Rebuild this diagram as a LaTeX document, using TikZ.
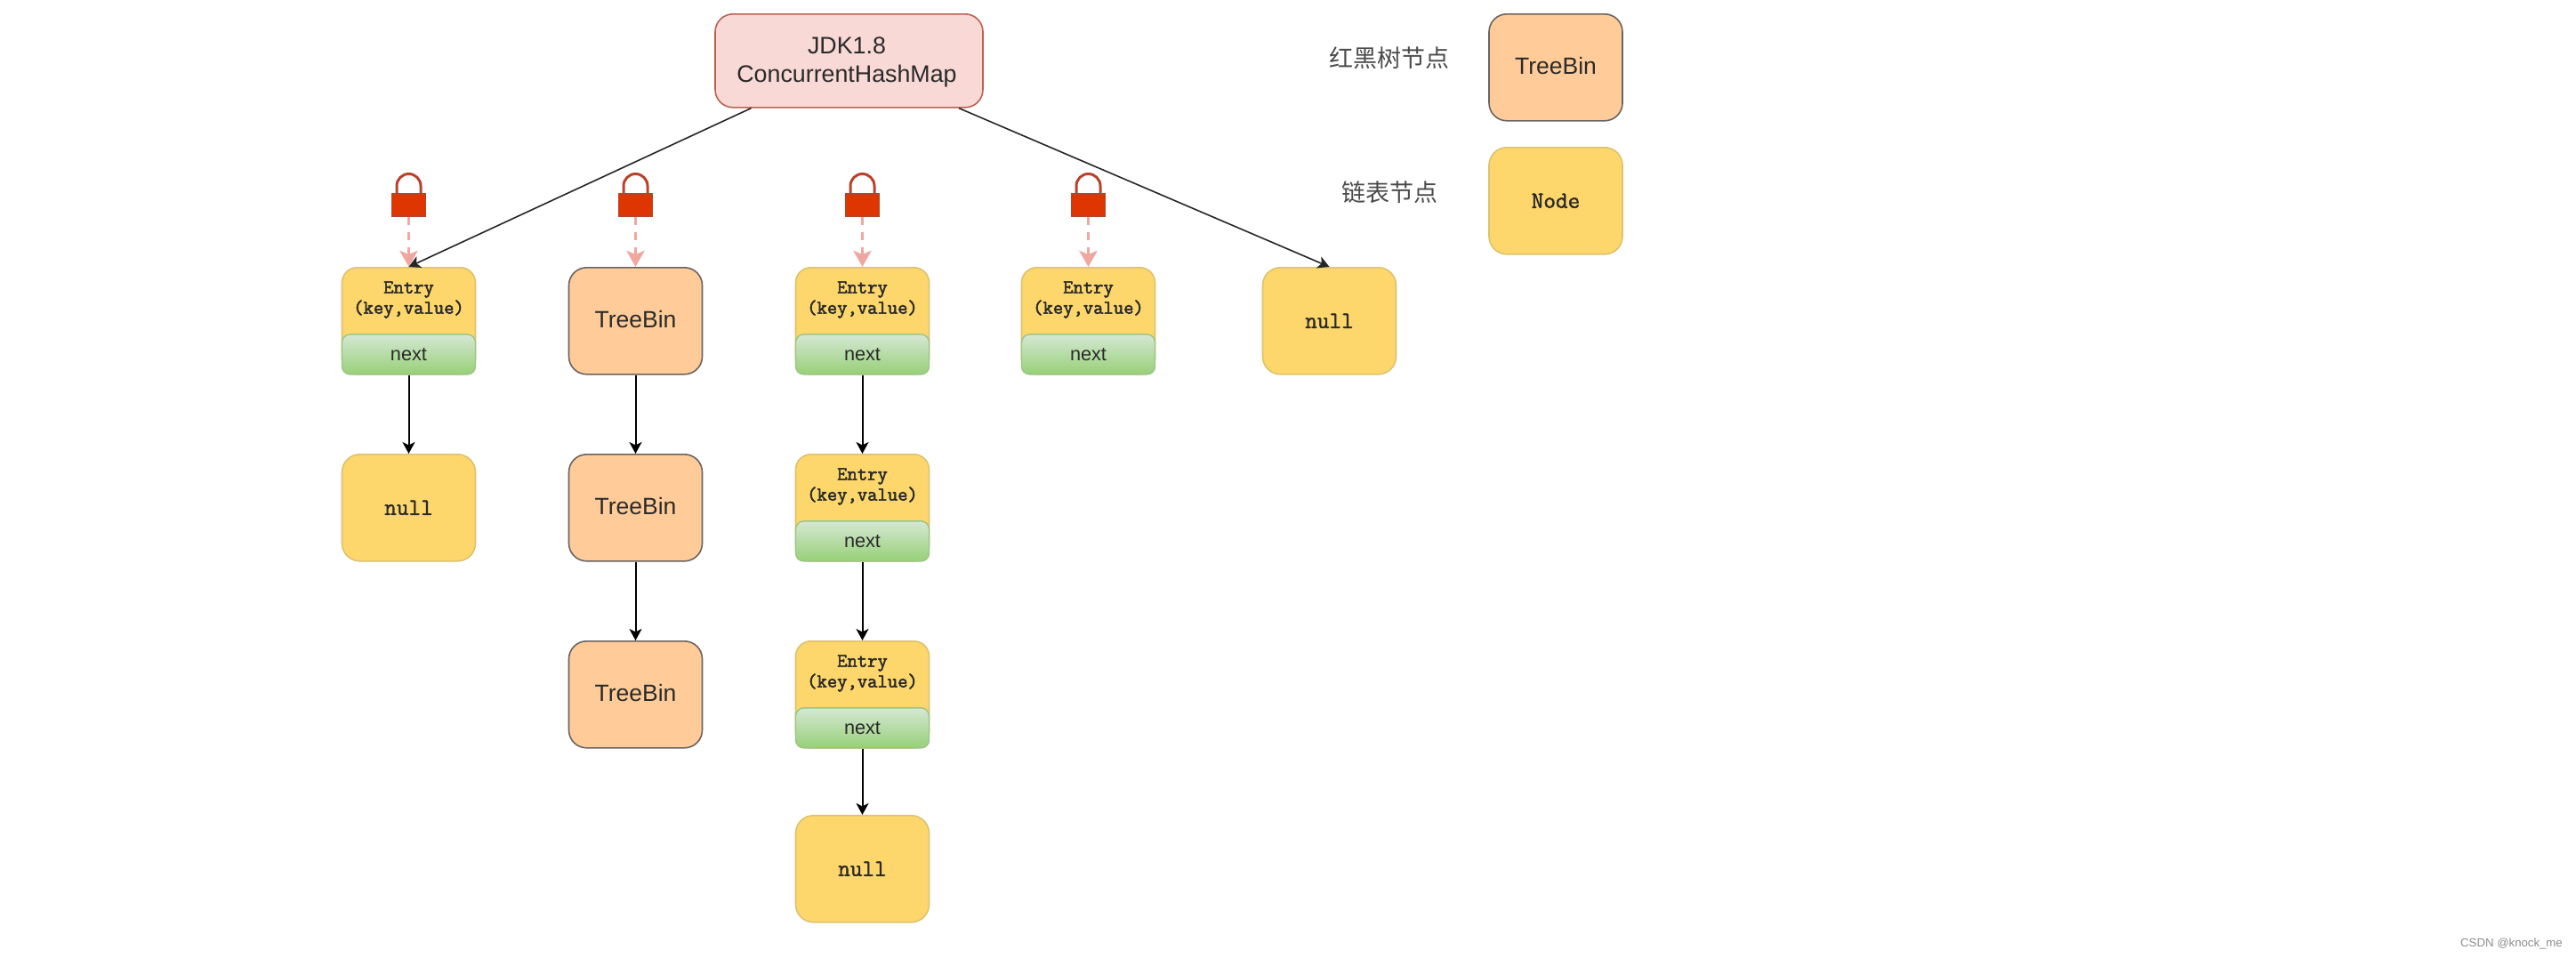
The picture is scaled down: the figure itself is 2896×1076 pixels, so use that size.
\documentclass[tikz,border=0pt]{standalone}
\usepackage{fontspec}
\setmainfont{Liberation Sans}
\newfontfamily\cjkfont{Noto Sans CJK SC}
\newfontfamily\slabnull[FakeBold=1.6]{Latin Modern Mono}
\newfontfamily\slabentry[FakeBold=2.4]{Latin Modern Mono}
\usetikzlibrary{arrows.meta,positioning}
\definecolor{yfill}{HTML}{FDD76C}
\definecolor{ystroke}{HTML}{DDC26E}
\definecolor{ofill}{HTML}{FFCC99}
\definecolor{ostroke}{HTML}{6A6461}
\definecolor{rfill}{HTML}{F8D9D5}
\definecolor{rstroke}{HTML}{BC6150}
\definecolor{lockfill}{HTML}{DF3500}
\definecolor{lockstroke}{HTML}{B8432A}
\definecolor{pinkline}{HTML}{EFA79F}
\definecolor{gtop}{HTML}{D5E8D4}
\definecolor{gbot}{HTML}{97D077}
\definecolor{gstroke}{HTML}{9BC585}
\definecolor{txt}{HTML}{2A2A2A}
\tikzset{
  x=1pt,y=-1pt,
  box/.style={minimum width=150pt,minimum height=120pt,inner sep=0pt,rounded corners=20pt,line width=1.6pt,text=txt,align=center,anchor=north},
  treebin/.style={box,draw=ostroke,fill=ofill,text depth=4pt,font=\fontsize{26.5}{32}\selectfont},
  nullbox/.style={box,draw=ystroke,fill=yfill,font=\fontsize{26.5}{30}\selectfont\slabnull},
  entrybox/.style={box,draw=ystroke,fill=yfill,rounded corners=17pt},
  entrytext/.style={inner sep=0pt,align=center,text=txt,font=\fontsize{22}{23}\selectfont\slabentry},
  nextbox/.style={minimum width=150pt,minimum height=45pt,inner sep=0pt,rounded corners=9pt,draw=gstroke,line width=1.4pt,top color=gtop,bottom color=gbot,text=txt,font=\fontsize{21.7}{26}\selectfont,anchor=south},
  rootbox/.style={inner sep=0pt,minimum width=301pt,minimum height=105pt,rounded corners=20pt,line width=1.6pt,draw=rstroke,fill=rfill,anchor=north},
  roottext/.style={inner sep=0pt,align=center,text=txt,font=\fontsize{26.8}{32}\selectfont},
  lockbody/.style={minimum width=38pt,minimum height=25pt,inner sep=0pt,draw=lockstroke,fill=lockfill,line width=1.5pt,anchor=north},
  shackle/.style={draw=lockstroke,line width=3pt},
  link/.style={draw=black,line width=2pt,-{Stealth[length=13pt,width=14pt,inset=3.5pt]}},
  edge1/.style={draw=black!85,line width=1.6pt,-{Stealth[length=13pt,width=14pt,inset=3.5pt]}},
  lockline/.style={draw=pinkline,line width=3.5pt,dash pattern=on 9pt off 8pt,-{Stealth[length=18pt,width=20pt,inset=4pt]}},
  cjklabel/.style={inner sep=0pt,text=txt!85,font=\fontsize{27}{32}\selectfont\cjkfont},
  mark1/.style={inner sep=0pt,text=black!45,font=\fontsize{13.2}{16}\selectfont,anchor=east}
}
\begin{document}
\begin{tikzpicture}
\useasboundingbox (0,0) rectangle (2896,1076);
\node[rootbox] (root) at (954.5,15) {};
\node[roottext] (roott) at (952,70) {JDK1.8\\ConcurrentHashMap};
% legend
\node[cjklabel] (lb1) at (1562,65) {红黑树节点};
\node[cjklabel] (lb2) at (1562,216) {链表节点};
\node[treebin] (legT) at (1749,15) {TreeBin};
\node[nullbox] (legN) at (1749,165) {Node};
% column 1
\node[entrybox] (e1) at (459.5,300) {};
\node[nextbox] (n1) at (e1.south) {next};
\node[entrytext] (t1) at (459.5,337) {Entry\\(key,value)};
\node[nullbox] (c1b) at (459.5,510) {null};
% column 2
\node[treebin] (c2a) at (714.5,300) {TreeBin};
\node[treebin] (c2b) at (714.5,510) {TreeBin};
\node[treebin] (c2c) at (714.5,720) {TreeBin};
% column 3
\node[entrybox] (e3) at (969.5,300) {};
\node[nextbox] (n3) at (e3.south) {next};
\node[entrytext] (t3) at (969.5,337) {Entry\\(key,value)};
\node[entrybox] (e4) at (969.5,510) {};
\node[nextbox] (n4) at (e4.south) {next};
\node[entrytext] (t4) at (969.5,547) {Entry\\(key,value)};
\node[entrybox] (e5) at (969.5,720) {};
\node[nextbox] (n5) at (e5.south) {next};
\node[entrytext] (t5) at (969.5,757) {Entry\\(key,value)};
\node[nullbox] (c3d) at (969.5,916) {null};
% column 4
\node[entrybox] (e6) at (1223.5,300) {};
\node[nextbox] (n6) at (e6.south) {next};
\node[entrytext] (t6) at (1223.5,337) {Entry\\(key,value)};
% column 5
\node[nullbox] (c5) at (1494.5,300) {null};
% locks
\foreach \nm/\cx in {l1/459.5,l2/714.5,l3/969.5,l4/1223.5}{
  \node[lockbody] (\nm) at (\cx,217) {};
  \draw[shackle] ([xshift=-13.5pt]\nm.north) -- ++(0,-8) arc[start angle=180,end angle=0,radius=13.5pt] -- ++(0,8);
}
% connectors
\draw[lockline] (l1.south) -- (e1.north);
\draw[lockline] (l2.south) -- (c2a.north);
\draw[lockline] (l3.south) -- (e3.north);
\draw[lockline] (l4.south) -- (e6.north);
\draw[edge1] ([xshift=-110pt]root.south) -- (e1.north);
\draw[edge1] ([xshift=123.5pt]root.south) -- (c5.north);
\draw[link] (n1.south) -- (c1b.north);
\draw[link] (c2a.south) -- (c2b.north);
\draw[link] (c2b.south) -- (c2c.north);
\draw[link] (n3.south) -- (e4.north);
\draw[link] (n4.south) -- (e5.north);
\draw[link] (n5.south) -- (c3d.north);
\node[mark1] (wm) at (2881,1061) {CSDN @knock\_me};
\end{tikzpicture}
\end{document}
